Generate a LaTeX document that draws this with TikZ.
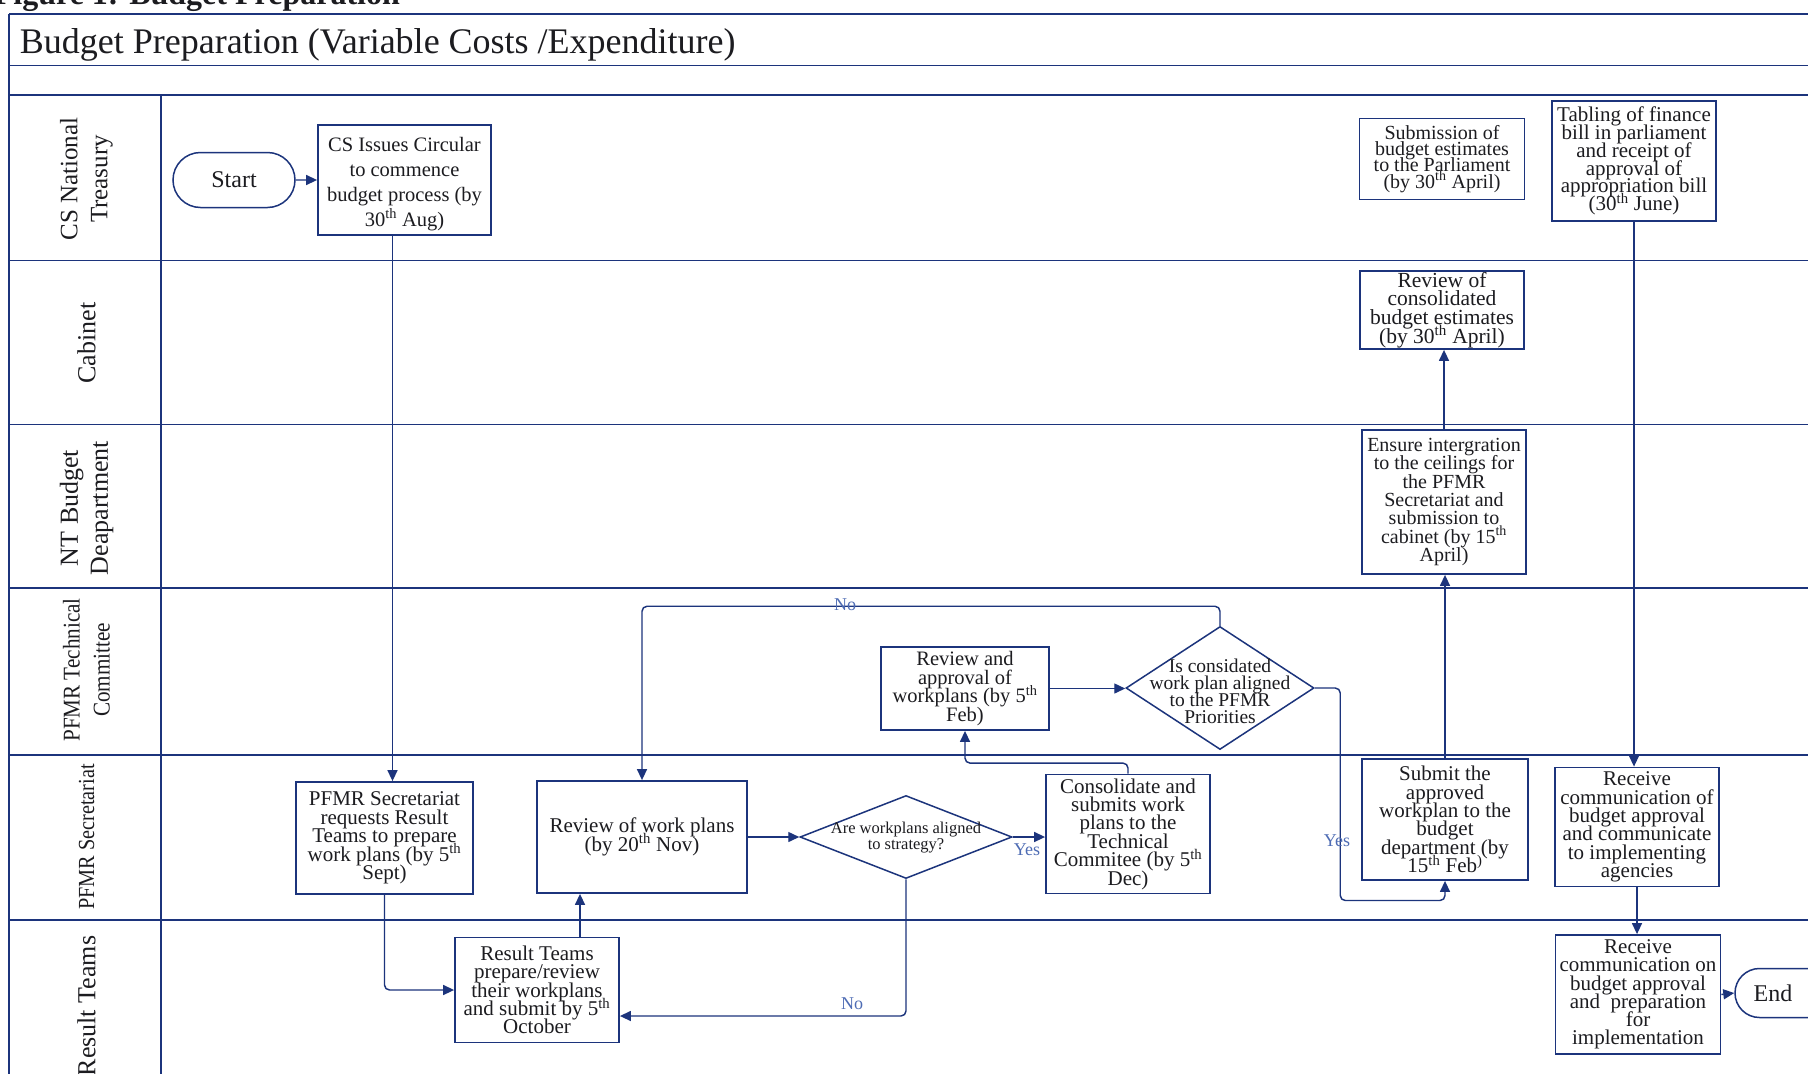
\documentclass[tikz,border=0pt]{standalone}
\usepackage{fontspec}
\setmainfont{Liberation Serif}
\newfontfamily\narrowserif[FakeStretch=0.88]{Liberation Serif}
\usetikzlibrary{arrows.meta,shapes.geometric,shapes.misc,calc}
\definecolor{navy}{RGB}{28,52,124}
\definecolor{ink}{RGB}{28,28,32}
\definecolor{lbl}{RGB}{78,108,180}

% font size with a fixed line pitch, even where lines touch
\newcommand{\fs}[2]{\fontsize{#1}{#2}\selectfont\lineskiplimit=-100pt\lineskip=0pt}

\begin{document}
\begin{tikzpicture}[x=1pt,y=-1pt,
  laneline/.style={draw=navy,line width=1.4pt},
  box/.style={draw=navy,line width=1.8pt,align=center,inner sep=0pt,text=ink},
  decision/.style={draw=navy,line width=1.5pt,diamond,inner sep=0pt},
  dtext/.style={align=center,inner sep=0pt,text=ink},
  terminal/.style={draw=navy,line width=1.5pt,rounded rectangle,inner sep=0pt,text=ink,font=\fs{24}{26}},
  lanelabel/.style={rotate=90,align=center,inner sep=0pt,text=ink},
  flow/.style={draw=navy,line width=1.45pt,rounded corners=5pt,-{Triangle[length=11pt,width=10pt]}},
  answer/.style={text=lbl,inner sep=1pt,font=\fs{18}{20}}]

\useasboundingbox (0,0) rectangle (1808,1074);
\fill[white] (0,0) rectangle (1808,1074);

% caption above the frame
\node[anchor=base east,inner sep=0pt,font=\bfseries\fs{32}{34},text=ink] (caption) at (400,4) {Figure 1: Budget Preparation};

% frame and swimlane rules
\draw[laneline] (9,13.8) -- (9,1080);
\draw[laneline] (161,95) -- (161,1080);
\foreach \yy in {13.8,65.7,95,260.6,424.3,588,755,920}
  \draw[laneline] (9,\yy) -- (1815,\yy);

\node[anchor=base west,inner sep=0pt,font=\fs{36}{40},text=ink] (title) at (19.6,53) {Budget Preparation (Variable Costs /Expenditure)};

% lane headings
\node[lanelabel,font=\fs{25}{30}] (l1) at (86.5,179) {CS National\\Treasury};
\node[lanelabel,font=\fs{26}{30}] (l2) at (86.5,343) {Cabinet};
\node[lanelabel,font=\fs{26}{30}] (l3) at (86.5,508) {NT Budget\\Deapartment};
\node[lanelabel,font=\narrowserif\fs{24}{30}] (l4) at (86.5,670) {PFMR Technical\\Committee};
\node[lanelabel,font=\narrowserif\fs{23}{30}] (l5) at (86.5,837) {PFMR Secretariat};
\node[lanelabel,font=\fs{26}{30}] (l6) at (86.5,1006) {Result Teams};

% process steps
\node[terminal,minimum width=122,minimum height=55] (start) at (234,180) {Start};
\node[box,minimum width=173,minimum height=110,font=\fs{20.5}{25}] (cs) at (404.5,180)
  {\rule{0pt}{22pt}CS Issues Circular\\to commence\\budget process (by\\30\textsuperscript{th} Aug)};
\node[box,minimum width=165,minimum height=81,font=\fs{20}{16.2}] (sub) at (1442,159)
  {Submission of\\budget estimates\\to the Parliament\\(by 30\textsuperscript{th} April)};
\node[box,minimum width=164,minimum height=120,font=\fs{21}{17.8}] (tab) at (1634,161)
  {Tabling of finance\\bill in parliament\\and receipt of\\approval of\\appropriation bill\\(30\textsuperscript{th} June)};
\node[box,minimum width=164,minimum height=78,font=\fs{21.5}{18.8}] (rcons) at (1442,310)
  {Review of\\consolidated\\budget estimates\\(by 30\textsuperscript{th} April)};
\node[box,minimum width=164,minimum height=144,font=\fs{20}{18.4}] (ens) at (1444,502)
  {Ensure intergration\\to the ceilings for\\the PFMR\\Secretariat and\\submission to\\cabinet (by 15\textsuperscript{th}\\April)};
\node[box,minimum width=168,minimum height=83,font=\fs{20.5}{18.4}] (rap) at (965,688.5)
  {Review and\\approval of\\workplans (by 5\textsuperscript{th}\\Feb)};
\node[decision,minimum width=188,minimum height=123] (d2) at (1220,688) {};
\node[dtext,font=\fs{19.5}{17}] (d2t) at (1220,691) {Is considated\\work plan aligned\\to the PFMR\\Priorities};
\node[box,minimum width=177,minimum height=112,font=\fs{21}{18.4}] (req) at (384.5,838)
  {PFMR Secretariat\\requests Result\\Teams to prepare\\work plans (by 5\textsuperscript{th}\\Sept)};
\node[box,minimum width=210,minimum height=112,font=\fs{21}{18.4}] (rwp) at (642,837)
  {Review of work plans\\(by 20\textsuperscript{th} Nov)};
\node[decision,minimum width=212,minimum height=83] (d1) at (906,837) {};
\node[dtext,font=\fs{16.5}{16}] (d1t) at (906,838) {Are workplans aligned\\to strategy?};
\node[box,minimum width=164,minimum height=119,font=\fs{21}{18.4}] (con) at (1128,834)
  {Consolidate and\\submits work\\plans to the\\Technical\\Commitee (by 5\textsuperscript{th}\\Dec)};
\node[box,minimum width=166,minimum height=121,font=\fs{21}{18.4}] (sub2) at (1445,819.5)
  {Submit the\\approved\\workplan to the\\budget\\department (by\\15\textsuperscript{th} Feb\textsuperscript{)}};
\node[box,minimum width=164,minimum height=119,font=\fs{21}{18.4}] (rc1) at (1637,827)
  {Receive\\communication of\\budget approval\\and communicate\\to implementing\\agencies};
\node[box,minimum width=164,minimum height=105,font=\fs{21}{18.4}] (rt) at (537,990)
  {Result Teams\\prepare/review\\their workplans\\and submit by 5\textsuperscript{th}\\October};
\node[box,minimum width=165,minimum height=119,font=\fs{21}{18.2}] (rc2) at (1638,994.5)
  {Receive\\communication on\\budget approval\\and~ preparation\\for\\implementation};
\node[terminal,minimum width=100,minimum height=49] (end) at (1785,993) {End\hspace*{24pt}};

% connectors
\draw[flow] (start) -- (cs);
\draw[flow] ([xshift=-12pt]cs.south) -- ([xshift=-12pt]cs.south |- req.north);
\draw[flow] (req.south) |- (rt.west);
\draw[flow] ([xshift=43pt]rt.north) -- ([xshift=43pt]rt.north |- rwp.south);
\draw[flow] (rwp.east) -- (d1.west);
\draw[flow] (d1.east) -- (d1.east -| con.west);
\node[answer] (yes1) at (1027,850) {Yes};
\draw[flow] (d1.south) |- ([yshift=-26pt]rt.east);
\node[answer] (no1) at (852,1004) {No};
\draw[flow] (con.north) -- ++(0,-10.5) -| (rap.south);
\draw[flow] (rap.east) -- (rap.east -| d2.west);
\draw[flow] (d2.north) -- ++(0,-19.5) -| (rwp.north);
\node[answer] (no2) at (845,605) {No};
\draw[flow] (d2.east) -- ++(25.5,0) -- ++(0,212.5) -| (sub2.south);
\node[answer] (yes2) at (1337,841) {Yes};
\draw[flow] (sub2.north) -- (sub2.north |- ens.south);
\draw[flow] (ens.north) -- (ens.north |- rcons.south);
\draw[flow] (tab.south) -- (tab.south |- rc1.north);
\draw[flow] (rc1.south) -- (rc1.south |- rc2.north);
\draw[flow] (rc2.east) -- (end.west);
\end{tikzpicture}
\end{document}
